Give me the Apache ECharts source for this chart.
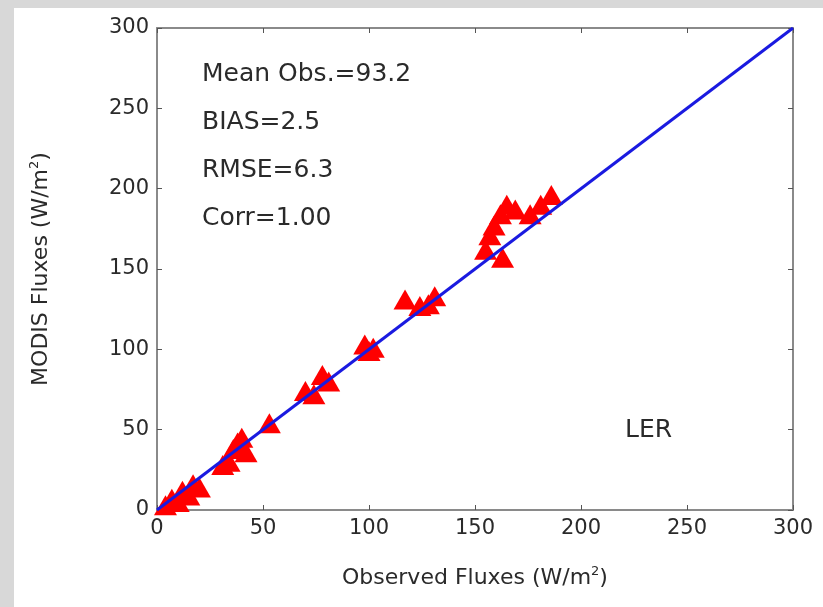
<!DOCTYPE html>
<html>
<head>
<meta charset="utf-8">
<script src="https://cdn.jsdelivr.net/npm/echarts@6/dist/echarts.min.js"></script>
<style>
html,body{margin:0;padding:0;background:#fff;}
#c{width:823px;height:607px;}
</style>
</head>
<body>
<div id="c"></div>
<script>
const xTicks = [0, 50, 100, 150, 200, 250, 300];
const yTicks = [0, 50, 100, 150, 200, 250, 300];
const observed = [4, 7, 10, 12, 15, 17, 20, 31, 34, 36, 38, 40, 42, 53, 70, 74, 78, 81, 98, 100, 102, 117, 124, 128, 131, 155, 157, 159, 162, 163, 165, 169, 176, 181, 186];
const modis = [3, 7, 5, 12, 9, 16, 14, 28, 30, 38, 42, 45, 36, 54, 74, 72, 84, 80, 103, 99, 101, 131, 127, 128, 133, 162, 171, 177, 184, 157, 190, 187, 184, 190, 196];
const lineX = [0, 300];
const lineY = [0, 300];
const statsText = ['Mean Obs.=93.2', 'BIAS=2.5', 'RMSE=6.3', 'Corr=1.00'];
const panelLabel = 'LER';

const chart = echarts.init(document.getElementById('c'), null, {renderer: 'canvas'});
const font = 'DejaVu Sans';
const tickLabel = {fontFamily: font, fontSize: 21, color: '#2a2a2a', margin: 8};
const axisLineStyle = {show: true, onZero: false, lineStyle: {color: '#8a8a8a', width: 2}};
const tickStyle = {show: true, inside: true, length: 5, lineStyle: {color: '#555', width: 1}};
const statGraphics = statsText.map((t, i) => ({
  type: 'text', left: 202, top: 62 + i * 48,
  style: {text: t, font: '25px "DejaVu Sans"', fill: '#2a2a2a'}
}));

chart.setOption({
  backgroundColor: '#ffffff',
  animation: false,
  grid: {left: 157, right: 30, top: 28, bottom: 97},
  xAxis: [{
    type: 'value', min: 0, max: 300, interval: 50,
    axisLine: axisLineStyle,
    axisTick: tickStyle,
    axisLabel: tickLabel,
    splitLine: {show: false},
    name: 'Observed Fluxes (W/m{sup|2})',
    nameLocation: 'middle', nameGap: 55,
    nameTextStyle: {fontFamily: font, fontSize: 22, color: '#2a2a2a',
      rich: {sup: {fontFamily: font, fontSize: 13, color: '#2a2a2a', padding: [0, 0, 14, 0]}}}
  }, {
    type: 'value', min: 0, max: 300, interval: 50, position: 'top',
    axisLine: axisLineStyle,
    axisTick: tickStyle,
    axisLabel: {show: false}, splitLine: {show: false}
  }],
  yAxis: [{
    type: 'value', min: 0, max: 300, interval: 50,
    axisLine: axisLineStyle,
    axisTick: tickStyle,
    axisLabel: tickLabel,
    splitLine: {show: false},
    name: 'MODIS Fluxes (W/m{sup|2})',
    nameLocation: 'middle', nameGap: 102, nameRotate: 90,
    nameTextStyle: {fontFamily: font, fontSize: 22, color: '#2a2a2a',
      rich: {sup: {fontFamily: font, fontSize: 13, color: '#2a2a2a', padding: [0, 0, 14, 0]}}}
  }, {
    type: 'value', min: 0, max: 300, interval: 50, position: 'right',
    axisLine: axisLineStyle,
    axisTick: tickStyle,
    axisLabel: {show: false}, splitLine: {show: false}
  }],
  series: [{
    type: 'scatter',
    data: observed.map((v, i) => [v, modis[i]]),
    symbol: 'triangle', symbolSize: [23, 20],
    itemStyle: {color: '#ff0000', opacity: 1},
    z: 2
  }, {
    type: 'line',
    data: lineX.map((v, i) => [v, lineY[i]]),
    showSymbol: false, symbol: 'none',
    lineStyle: {color: '#1a1ae0', width: 3},
    z: 3
  }],
  graphic: [
    {type: 'rect', left: 0, top: 0, shape: {width: 14, height: 607}, style: {fill: '#d8d8d8'}, silent: true},
    {type: 'rect', left: 0, top: 0, shape: {width: 823, height: 8}, style: {fill: '#d8d8d8'}, silent: true},
    ...statGraphics,
    {type: 'text', left: 625, top: 418, style: {text: panelLabel, font: '25px "DejaVu Sans"', fill: '#2a2a2a'}}
  ]
});
</script>
</body>
</html>
